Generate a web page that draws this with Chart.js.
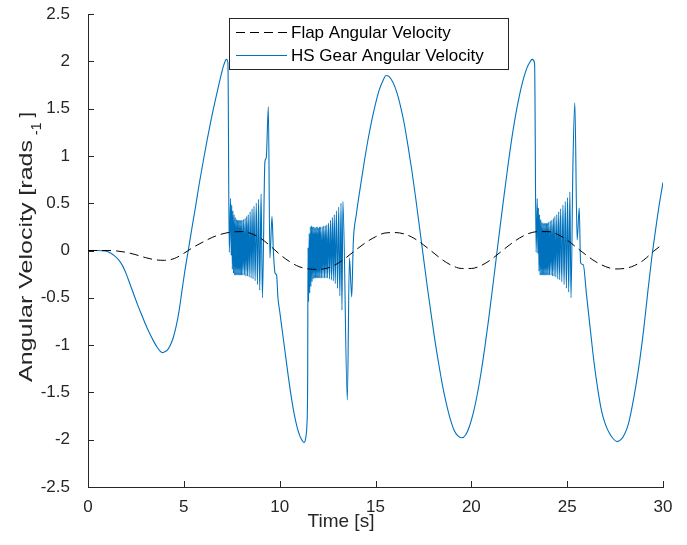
<!DOCTYPE html>
<html><head><meta charset="utf-8">
<script src="https://cdn.jsdelivr.net/npm/chart.js@4.4.1/dist/chart.umd.min.js"></script>
<style>html,body{margin:0;padding:0;background:#fff;}#wrap{width:687px;height:545px;}</style>
</head><body><div id="wrap"><canvas id="c" width="687" height="545"></canvas></div>
<script>
const seriesNames = ['Flap Angular Velocity', 'HS Gear Angular Velocity'];

const flapTime = [0,0.5,1,1.5,2,2.5,3,3.5,4,4.5,5,5.5,6,6.5,7,7.5,8,8.5,9,9.5,10,10.5,11,11.5,12,12.5,13,13.5,14,14.5,15,15.5,16,16.5,17,17.5,18,18.5,19,19.5,20,20.5,21,21.5,22,22.5,23,23.5,24,24.5,25,25.5,26,26.5,27,27.5,28,28.5,29,29.5,30];
const flapVel = [0,0,0,-0.005,-0.02,-0.045,-0.075,-0.098,-0.104,-0.085,-0.03,0.035,0.09,0.14,0.175,0.195,0.2,0.18,0.13,0.05,-0.04,-0.115,-0.17,-0.195,-0.2,-0.185,-0.14,-0.07,0.01,0.085,0.145,0.185,0.19,0.175,0.13,0.06,-0.02,-0.1,-0.16,-0.19,-0.19,-0.16,-0.1,-0.02,0.06,0.13,0.18,0.2,0.2,0.17,0.11,0.03,-0.05,-0.12,-0.17,-0.195,-0.19,-0.16,-0.1,-0.01,0.07];

const gearTime = [0,0.5,0.9,1.2,1.4,1.6,1.8,2.0,2.2,2.4,2.6,2.8,3.0,3.2,3.4,3.6,3.75,3.88,4.0,4.15,4.3,4.45,4.6,4.75,4.9,5.05,5.23,5.4,5.6,5.8,6.0,6.2,6.4,6.6,6.8,6.95,7.1,7.22,7.3,7.37,
7.44,7.47,7.50,7.53,7.56,7.59,7.62,7.65,7.68,7.71,7.74,7.77,7.80,7.83,7.86,7.89,7.92,7.95,7.98,8.01,8.04,8.08,8.12,8.16,8.20,8.24,8.28,8.32,8.36,8.41,8.46,8.51,8.56,8.61,8.66,8.72,8.78,8.84,8.90,8.96,9.03,9.10,
9.23,9.30,9.41,9.49,9.60,9.67,9.76,9.84,9.91,10.0,10.15,10.3,10.45,10.6,10.75,10.9,11.05,11.18,11.27,11.36,11.42,11.46,
11.48,11.51,11.54,11.57,11.60,11.63,11.66,11.69,11.72,11.75,11.78,11.81,11.84,11.87,11.90,11.93,11.96,11.99,12.02,12.05,12.08,12.11,12.14,12.18,12.22,12.26,12.30,12.34,12.38,12.42,12.46,12.50,12.55,12.60,12.65,12.70,12.75,12.80,12.85,12.90,12.96,13.02,13.08,13.14,13.20,13.25,13.30,
13.53,13.64,13.76,13.84,14.0,14.2,14.4,14.6,14.8,15.0,15.2,15.4,15.55,15.7,15.9,16.1,16.3,16.5,16.7,16.9,17.1,17.3,17.5,17.7,17.9,18.1,18.3,18.5,18.7,18.9,19.1,19.3,19.5,19.7,19.9,20.1,20.3,20.5,20.7,20.9,21.1,21.3,21.5,21.7,21.9,22.1,22.3,22.5,22.7,22.9,23.05,23.17,23.3,23.38,
23.44,23.47,23.50,23.53,23.56,23.59,23.62,23.65,23.68,23.71,23.74,23.77,23.80,23.83,23.86,23.89,23.92,23.95,23.98,24.01,24.04,24.08,24.12,24.16,24.20,24.24,24.28,24.32,24.36,24.41,24.46,24.51,24.56,24.61,24.66,24.72,24.78,24.84,24.90,24.96,25.02,25.08,25.14,25.20,
25.30,25.40,25.52,25.63,25.70,25.84,26.0,26.2,26.4,26.6,26.8,27.0,27.2,27.4,27.6,27.8,28.0,28.2,28.4,28.6,28.8,29.0,29.2,29.4,29.6,29.8,30.0];
const gearVel = [0,0,-0.005,-0.03,-0.06,-0.1,-0.16,-0.25,-0.36,-0.47,-0.58,-0.68,-0.78,-0.87,-0.95,-1.02,-1.06,-1.08,-1.07,-1.05,-1.0,-0.92,-0.8,-0.64,-0.43,-0.22,0,0.21,0.45,0.7,0.93,1.15,1.36,1.55,1.73,1.86,1.97,2.02,1.99,-0.02,
0.55,-0.05,0.48,-0.2,0.42,-0.24,0.38,-0.26,0.35,-0.26,0.33,-0.26,0.32,-0.26,0.32,-0.26,0.32,-0.26,0.32,-0.26,0.32,-0.26,0.33,-0.26,0.34,-0.27,0.36,-0.27,0.38,-0.28,0.41,-0.29,0.44,-0.3,0.47,-0.32,0.5,-0.36,0.54,-0.42,0.6,-0.5,
0.94,0.98,1.52,-0.08,0.36,0,-0.24,-0.26,-0.5,-0.64,-0.87,-1.1,-1.33,-1.54,-1.72,-1.86,-1.96,-2.01,-2.03,-1.98,-1.85,-1.4,
0.03,-0.54,0.18,-0.45,0.25,-0.38,0.26,-0.33,0.25,-0.3,0.25,-0.29,0.24,-0.29,0.25,-0.29,0.25,-0.29,0.24,-0.29,0.25,-0.29,0.25,-0.29,0.25,-0.29,0.26,-0.29,0.26,-0.29,0.27,-0.29,0.29,-0.3,0.32,-0.31,0.35,-0.32,0.38,-0.35,0.42,-0.4,0.46,-0.48,0.5,-0.63,0.52,
-1.58,-0.08,-0.49,0.08,0.38,0.66,0.92,1.16,1.37,1.55,1.7,1.8,1.85,1.84,1.78,1.68,1.53,1.34,1.1,0.84,0.55,0.24,-0.07,-0.38,-0.67,-0.95,-1.2,-1.43,-1.62,-1.78,-1.9,-1.96,-1.98,-1.95,-1.86,-1.72,-1.53,-1.3,-1.03,-0.73,-0.41,-0.08,0.25,0.57,0.88,1.17,1.42,1.63,1.8,1.93,1.99,2.02,1.98,-0.02,
0.55,-0.03,0.45,-0.22,0.38,-0.26,0.33,-0.26,0.3,-0.26,0.29,-0.26,0.29,-0.26,0.29,-0.26,0.29,-0.26,0.29,-0.26,0.3,-0.26,0.31,-0.26,0.32,-0.27,0.34,-0.27,0.36,-0.28,0.38,-0.3,0.41,-0.31,0.44,-0.33,0.48,-0.36,0.52,-0.4,0.56,-0.44,0.62,-0.5,
0.9,1.56,0.11,0.45,-0.13,-0.15,-0.45,-0.82,-1.18,-1.47,-1.7,-1.84,-1.93,-1.99,-2.02,-2.0,-1.94,-1.83,-1.64,-1.41,-1.14,-0.82,-0.45,-0.1,0.2,0.48,0.72];

const xTicks = [0, 5, 10, 15, 20, 25, 30];
const xTickLabels = ['0', '5', '10', '15', '20', '25', '30'];
const yTicks = [-2.5, -2, -1.5, -1, -0.5, 0, 0.5, 1, 1.5, 2, 2.5];
const yTickLabels = ['-2.5', '-2', '-1.5', '-1', '-0.5', '0', '0.5', '1', '1.5', '2', '2.5'];
const xTitle = 'Time [s]';
const yTitleMain = 'Angular Velocity [rads';
const yTitleSup = '-1';
const yTitleEnd = ']';

const FONT = '"Liberation Sans", Arial, Helvetica, sans-serif';
const AXIS_COLOR = '#262626';
const BLUE = '#0072BD';

const toPoints = (ts, vs) => ts.map((t, i) => ({x: t, y: vs[i]}));

const tickMarks = {
  id: 'tickMarks',
  afterDraw(chart) {
    const {ctx, chartArea: a, scales: {x, y}} = chart;
    ctx.save();
    ctx.strokeStyle = AXIS_COLOR;
    ctx.lineWidth = 1;
    ctx.beginPath();
    xTicks.forEach(v => { const p = Math.round(x.getPixelForValue(v)) + 0.5; ctx.moveTo(p, a.bottom); ctx.lineTo(p, a.bottom - 6); });
    yTicks.forEach(v => { const p = Math.round(y.getPixelForValue(v)) + 0.5; ctx.moveTo(a.left, p); ctx.lineTo(a.left + 6, p); });
    ctx.stroke();
    ctx.restore();
  }
};

const axisTitles = {
  id: 'axisTitles',
  afterDraw(chart) {
    const {ctx} = chart;
    ctx.save();
    ctx.fillStyle = AXIS_COLOR;
    ctx.font = '19px ' + FONT;
    ctx.textBaseline = 'middle';
    ctx.textAlign = 'center';
    ctx.fillText(xTitle, 341, 522);
    ctx.restore();

    ctx.save();
    ctx.fillStyle = AXIS_COLOR;
    ctx.translate(27, 382);
    ctx.rotate(-Math.PI / 2);
    ctx.textBaseline = 'middle';
    ctx.textAlign = 'left';
    ctx.font = '19px ' + FONT;
    const w = ctx.measureText(yTitleMain).width;
    const target = 242;
    const sx = target / w;
    ctx.save();
    ctx.scale(sx, 1);
    ctx.fillText(yTitleMain, 0, 0);
    ctx.restore();
    ctx.font = '14px ' + FONT;
    ctx.fillText(yTitleSup, target + 5, 10);
    const w2 = ctx.measureText(yTitleSup).width;
    ctx.font = '19px ' + FONT;
    ctx.fillText(yTitleEnd, target + 5 + w2 + 5, 0);
    ctx.restore();
  }
};

const legendBox = {
  id: 'legendBox',
  afterDraw(chart) {
    const {ctx} = chart;
    const left = 229, top = 18, right = 508, bottom = 69;
    ctx.save();
    ctx.fillStyle = '#fff';
    ctx.fillRect(left, top, right - left, bottom - top);
    ctx.strokeStyle = AXIS_COLOR;
    ctx.lineWidth = 1;
    ctx.strokeRect(left + 0.5, top + 0.5, right - left, bottom - top);
    const rows = [32, 55];
    chart.data.datasets.forEach((ds, i) => {
      const yy = rows[i];
      ctx.beginPath();
      ctx.strokeStyle = ds.borderColor;
      ctx.lineWidth = ds.borderWidth;
      ctx.setLineDash(ds.borderDash || []);
      ctx.moveTo(236, yy + 0.5);
      ctx.lineTo(287, yy + 0.5);
      ctx.stroke();
      ctx.setLineDash([]);
      ctx.fillStyle = '#000';
      ctx.font = '17px ' + FONT;
      ctx.textBaseline = 'middle';
      ctx.textAlign = 'left';
      ctx.fillText(ds.label, 291, yy + 1);
    });
    ctx.restore();
  }
};

new Chart(document.getElementById('c'), {
  type: 'line',
  data: {
    datasets: [
      { label: seriesNames[0], data: toPoints(flapTime, flapVel), borderColor: '#000000', borderWidth: 1, borderDash: [9, 5], pointRadius: 0, fill: false, cubicInterpolationMode: 'monotone' },
      { label: seriesNames[1], data: toPoints(gearTime, gearVel), borderColor: BLUE, borderWidth: 1.1, pointRadius: 0, fill: false, cubicInterpolationMode: 'monotone' }
    ]
  },
  options: {
    responsive: false,
    animation: false,
    devicePixelRatio: 1,
    layout: { padding: { left: 0, right: 24, top: 14, bottom: 0 } },
    plugins: { legend: { display: false }, tooltip: { enabled: false } },
    scales: {
      x: {
        type: 'linear', min: 0, max: 30,
        afterBuildTicks: s => { s.ticks = xTicks.map(v => ({value: v})); },
        afterFit: s => { s.height = 58; s.paddingLeft = 0; s.paddingRight = 0; },
        grid: { display: false },
        border: { display: true, color: AXIS_COLOR, width: 1 },
        ticks: { padding: 2, color: AXIS_COLOR, font: { family: FONT, size: 17 }, maxRotation: 0,
          callback: (v) => xTickLabels[xTicks.indexOf(v)] },
        title: { display: false }
      },
      y: {
        type: 'linear', min: -2.5, max: 2.5,
        afterBuildTicks: s => { s.ticks = yTicks.map(v => ({value: v})); },
        afterFit: s => { s.width = 88; s.paddingTop = 0; s.paddingBottom = 0; },
        grid: { display: false },
        border: { display: true, color: AXIS_COLOR, width: 1 },
        ticks: { padding: 10, color: AXIS_COLOR, font: { family: FONT, size: 17 },
          callback: (v) => yTickLabels[yTicks.indexOf(v)] }
      }
    }
  },
  plugins: [tickMarks, axisTitles, legendBox]
});
</script>
</body></html>
